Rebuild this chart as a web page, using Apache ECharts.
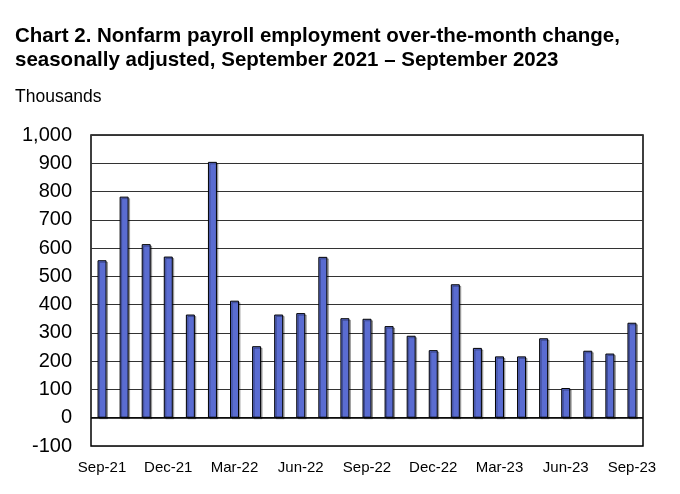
<!DOCTYPE html>
<html><head><meta charset="utf-8">
<script src="https://cdn.jsdelivr.net/npm/echarts@6/dist/echarts.min.js"></script>
<style>html,body{margin:0;padding:0;background:#fff}#c{width:680px;height:494px}</style>
</head><body><div id="c"></div>
<script>
const months = ['Sep-21','Oct-21','Nov-21','Dec-21','Jan-22','Feb-22','Mar-22','Apr-22','May-22','Jun-22','Jul-22','Aug-22','Sep-22','Oct-22','Nov-22','Dec-22','Jan-23','Feb-23','Mar-23','Apr-23','May-23','Jun-23','Jul-23','Aug-23','Sep-23'];
const payrollChange = [557,782,614,570,365,905,414,253,365,370,569,352,350,324,290,239,472,247,217,217,281,105,237,227,336];
const yTicks = [-100,0,100,200,300,400,500,600,700,800,900,1000];

const chart = echarts.init(document.getElementById('c'), null, {renderer:'canvas'});
chart.setOption({
  animation:false,
  backgroundColor:'#fff',
  title:[{
    text:'Chart 2. Nonfarm payroll employment over-the-month change,\nseasonally adjusted, September 2021 \u2013 September 2023',
    left:10, top:19,
    textStyle:{fontFamily:'Liberation Sans, Arial', fontWeight:'bold', fontSize:20.5, color:'#000', lineHeight:24}
  },{
    text:'Thousands', left:10, top:83,
    textStyle:{fontFamily:'Liberation Sans, Arial', fontWeight:'normal', fontSize:17.5, color:'#000'}
  }],
  grid:{left:91, right:37, top:135, bottom:48, show:true, borderColor:'#000', borderWidth:1.5},
  xAxis:{
    type:'category', data:months,
    axisLine:{show:false}, axisTick:{show:false},
    axisLabel:{interval:2, fontFamily:'Liberation Sans, Arial', fontSize:15, color:'#000', margin:14}
  },
  yAxis:{
    type:'value', min:yTicks[0], max:yTicks[yTicks.length-1], interval:100,
    axisLine:{show:false}, axisTick:{show:false},
    axisLabel:{fontFamily:'Liberation Sans, Arial', fontSize:20, color:'#000', margin:19,
      formatter:v=>v.toLocaleString('en-US')},
    splitLine:{lineStyle:{color:'#333', width:1}}
  },
  series:[{
    type:'bar', data:payrollChange, barWidth:9,
    itemStyle:{color:'#5a6cd1', borderColor:'#000', borderWidth:1,
      shadowColor:'rgba(0,0,0,0.3)', shadowOffsetX:1.5, shadowOffsetY:1.5, shadowBlur:0},
    markLine:{silent:true, symbol:'none', label:{show:false},
      lineStyle:{color:'#000', width:1.5, type:'solid'}, data:[{yAxis:0}]}
  }]
});
</script></body></html>
